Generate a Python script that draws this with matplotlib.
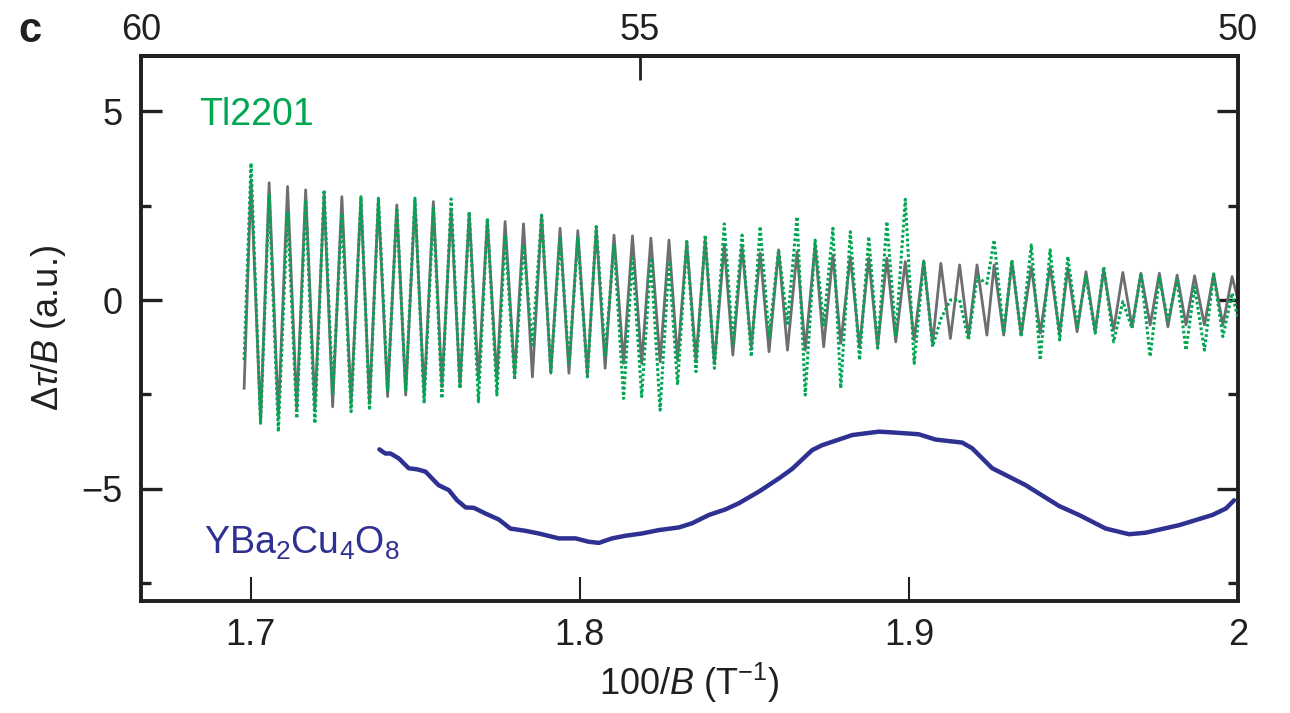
import numpy as np
import matplotlib
matplotlib.use("Agg")
import matplotlib.pyplot as plt

# 字体设置
plt.rcParams['font.family'] = ['Liberation Sans', 'DejaVu Sans']
plt.rcParams['mathtext.fontset'] = 'custom'
plt.rcParams['mathtext.rm'] = 'Liberation Sans'
plt.rcParams['mathtext.it'] = 'Liberation Sans:italic'
plt.rcParams['mathtext.bf'] = 'Liberation Sans:bold'

# Tl2201 振荡：极值点 (峰/谷) 的位置，灰色为实测，绿色为拟合
tl_x = [1.6980, 1.7001, 1.7030, 1.7056, 1.7084, 1.7112, 1.7140, 1.7167, 1.7195, 1.7223,
        1.7249, 1.7277, 1.7305, 1.7335, 1.7361, 1.7388, 1.7416, 1.7444, 1.7471, 1.7499,
        1.7527, 1.7555, 1.7581, 1.7609, 1.7636, 1.7664, 1.7692, 1.7719, 1.7748, 1.7773,
        1.7802, 1.7829, 1.7856, 1.7884, 1.7912, 1.7940, 1.7967, 1.7994, 1.8023, 1.8050,
        1.8077, 1.8104, 1.8133, 1.8160, 1.8188, 1.8216, 1.8244, 1.8271, 1.8297, 1.8325,
        1.8353, 1.8381, 1.8409, 1.8439, 1.8465, 1.8493, 1.8521, 1.8548, 1.8575, 1.8604,
        1.8631, 1.8660, 1.8685, 1.8715, 1.8741, 1.8769, 1.8793, 1.8822, 1.8850, 1.8878,
        1.8905, 1.8933, 1.8960, 1.8989, 1.9016, 1.9045, 1.9072, 1.9097, 1.9126, 1.9154,
        1.9181, 1.9207, 1.9237, 1.9259, 1.9288, 1.9313, 1.9341, 1.9372, 1.9399, 1.9429,
        1.9458, 1.9483, 1.9511, 1.9538, 1.9566, 1.9592, 1.9622, 1.9650, 1.9678, 1.9705,
        1.9733, 1.9761, 1.9787, 1.9815, 1.9842, 1.9868, 1.9898, 1.9926, 1.9954, 1.9982,
        2.0000]
tl_grey = [-2.34, 3.18, -3.23, 3.11, -3.09, 3.01, -2.87, 2.92, -2.87, 2.79,
           -2.83, 2.74, -2.74, 2.70, -2.74, 2.65, -2.56, 2.52, -2.52, 2.65,
           -2.52, 2.61, -2.30, 2.40, -2.30, 2.30, -2.12, 2.12, -2.12, 2.08,
           -1.99, 2.02, -2.04, 2.25, -1.94, 1.90, -1.94, 1.84, -1.99, 1.90,
           -1.81, 1.72, -1.68, 1.70, -1.68, 1.64, -1.64, 1.59, -1.59, 1.55,
           -1.59, 1.59, -1.68, 1.46, -1.46, 1.41, -1.24, 1.24, -1.37, 1.33,
           -1.33, 1.28, -1.33, 1.46, -1.24, 1.19, -1.15, 1.15, -1.24, 1.11,
           -1.24, 1.11, -1.11, 1.02, -1.06, 1.04, -1.15, 0.97, -1.02, 0.93,
           -0.97, 0.93, -0.93, 0.93, -0.93, 1.02, -0.93, 0.88, -0.88, 0.88,
           -0.88, 0.84, -0.84, 0.75, -0.84, 0.80, -0.80, 0.73, -0.71, 0.71,
           -0.66, 0.71, -0.71, 0.66, -0.66, 0.64, -0.66, 0.69, -0.66, 0.62,
           0.00]
tl_green = [-1.59, 3.63, -3.27, 2.78, -3.49, 2.34, -3.14, 2.65, -3.27, 2.92,
            -2.48, 2.30, -2.96, 2.74, -2.92, 2.70, -2.39, 2.39, -2.39, 2.70,
            -2.74, 2.43, -2.61, 2.68, -2.35, 2.34, -2.70, 2.17, -2.52, 1.72,
            -2.12, 1.46, -1.19, 2.25, -1.90, 1.64, -1.68, 1.64, -2.04, 1.95,
            -1.46, 1.48, -2.61, 1.11, -2.56, 1.11, -2.92, 1.02, -2.25, 1.55,
            -1.90, 1.72, -1.81, 2.02, -1.15, 1.72, -1.50, 1.95, -0.97, 1.33,
            -0.62, 2.21, -2.52, 1.59, -0.66, 1.90, -2.34, 1.81, -1.59, 1.68,
            -1.28, 2.08, -0.97, 2.67, -1.68, 1.04, -1.24, -0.50, 0.00, 0.00,
            -1.06, 0.60, 0.44, 1.59, -0.88, 1.06, -0.97, 1.46, -1.59, 1.33,
            -1.06, 1.15, -0.71, 0.62, -0.88, 0.88, -1.11, -0.04, -0.75, 0.71,
            -1.50, 0.58, -0.53, 0.53, -1.33, 0.35, -1.33, 0.69, -0.97, 0.18,
            -0.49]

# YBa2Cu4O8 曲线
ybco_x = [1.7391, 1.7409, 1.7425, 1.7450, 1.7480, 1.7506, 1.7531, 1.7571, 1.7602, 1.7627,
          1.7653, 1.7678, 1.7713, 1.7754, 1.7789, 1.7835, 1.7875, 1.7936, 1.7987, 1.8027,
          1.8058, 1.8098, 1.8139, 1.8189, 1.8240, 1.8301, 1.8341, 1.8392, 1.8443, 1.8483,
          1.8544, 1.8605, 1.8645, 1.8706, 1.8736, 1.8828, 1.8909, 1.8949, 1.9030, 1.9081,
          1.9162, 1.9192, 1.9253, 1.9294, 1.9355, 1.9456, 1.9517, 1.9598, 1.9669, 1.9719,
          1.9821, 1.9922, 1.9963, 1.9988]
ybco_y = [-3.96, -4.07, -4.07, -4.20, -4.46, -4.49, -4.55, -4.91, -5.04, -5.31,
          -5.50, -5.51, -5.66, -5.82, -6.06, -6.12, -6.19, -6.32, -6.32, -6.41,
          -6.44, -6.32, -6.25, -6.19, -6.10, -6.03, -5.92, -5.70, -5.55, -5.39,
          -5.08, -4.73, -4.48, -3.98, -3.85, -3.58, -3.49, -3.51, -3.56, -3.70,
          -3.78, -3.93, -4.46, -4.64, -4.91, -5.46, -5.70, -6.06, -6.21, -6.17,
          -5.97, -5.70, -5.53, -5.31]

x_ticks = [1.7, 1.8, 1.9, 2.0]
x_ticklabels = ['1.7', '1.8', '1.9', '2']
top_ticks = [60, 55, 50]
y_ticks = [-5, 0, 5]
y_minor = [-7.5, -2.5, 2.5]

c_grey = '#6d6e71'
c_green = '#00a651'
c_blue = '#2e3192'
c_ink = '#231f20'

fig = plt.figure(figsize=(12.9, 7.13), dpi=100)
ax = fig.add_axes([0.1093, 0.1571, 0.8504, 0.7644])

ax.plot(tl_x, tl_grey, color=c_grey, lw=2.0, zorder=2, solid_joinstyle='round')
ax.plot(tl_x, tl_green, color=c_green, lw=2.2, ls=(0, (0.9, 0.8)), zorder=3)
ax.plot(ybco_x, ybco_y, color=c_blue, lw=3.2, zorder=3, solid_capstyle='round',
        solid_joinstyle='round')

ax.set_xlim(100 / 60, 2.0)
ax.set_ylim(-7.98, 6.47)

ax.text(1.6842, 4.9, 'Tl2201', color=c_green, fontsize=27, ha='left', va='center')
ax.text(1.6857, -6.45, 'YBa$_2$Cu$_4$O$_8$', color=c_blue, fontsize=27, ha='left', va='center')

for s in ax.spines.values():
    s.set_linewidth(2.8)
    s.set_color(c_ink)

ax.set_xticks(x_ticks)
ax.set_xticklabels(x_ticklabels)
ax.set_yticks(y_ticks)
ax.set_yticklabels(['\u22125', '0', '5'])
ax.set_yticks(y_minor, minor=True)
ax.tick_params(axis='x', which='major', direction='in', length=17, width=1.5,
               top=False, labelsize=26, pad=12, colors=c_ink)
ax.tick_params(axis='y', which='major', direction='in', length=15, width=2.4,
               left=True, right=True, labelsize=26, pad=13, colors=c_ink)
ax.tick_params(axis='y', which='minor', direction='in', length=7.5, width=2.4,
               left=True, right=True, colors=c_ink)


def inv(v):
    v = np.asarray(v, dtype=float)
    with np.errstate(divide='ignore'):
        return 100.0 / v


sec = ax.secondary_xaxis('top', functions=(inv, inv))
sec.set_xticks(top_ticks)
sec.tick_params(direction='in', length=17, width=2.0, labelsize=26, pad=6, colors=c_ink)
sec.spines['top'].set_linewidth(2.8)
sec.spines['top'].set_color(c_ink)

ax.set_xlabel('100/$B$ (T$^{\u22121}$)', fontsize=26, labelpad=6, color=c_ink)
ax.set_ylabel(r'$\Delta\tau/B$ (a.u.)', fontsize=26, labelpad=10, color=c_ink)

fig.text(0.023, 0.956, 'c', fontsize=30, fontweight='bold', ha='center', va='center', color=c_ink)

fig.savefig('out.png', dpi=100)
